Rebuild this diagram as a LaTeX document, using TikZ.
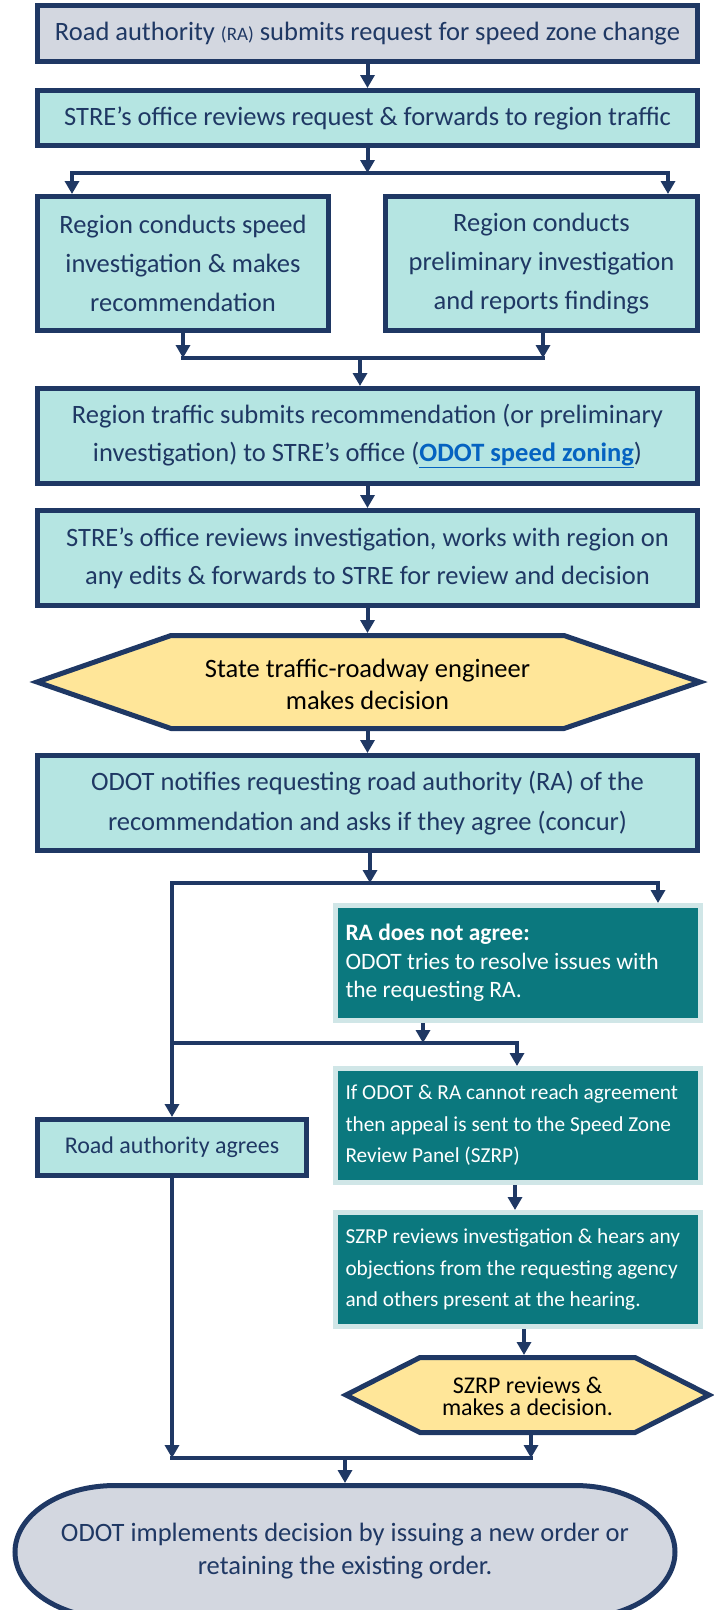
\documentclass[tikz,border=0pt]{standalone}
\usepackage{fontspec}
\setmainfont{Carlito}
\usetikzlibrary{arrows.meta,calc}
\definecolor{navy}{HTML}{1F3864}
\definecolor{lteal}{HTML}{B5E5E2}
\definecolor{lgrey}{HTML}{D3D7E0}
\definecolor{dteal}{HTML}{0B787E}
\definecolor{dborder}{HTML}{D0E6E7}
\definecolor{yell}{HTML}{FFE699}
\definecolor{linkc}{HTML}{0563C1}
\newcommand{\bigf}[1]{\fontsize{26.5}{#1}\selectfont}
\begin{document}
\begin{tikzpicture}[x=1pt,y=1pt,
  ln/.style={draw=navy, line width=4pt, line cap=rect},
  arr/.style={draw=navy, line width=4pt, -{Triangle[width=14pt,length=13pt]}},
  lbox/.style={draw=navy, line width=5pt, fill=lteal, text=navy, inner sep=0pt, align=center},
  gbox/.style={lbox, fill=lgrey},
  dbox/.style={draw=dborder, line width=5pt, fill=dteal, text=white, inner sep=0pt, align=flush left, text width=345pt, minimum width=365pt},
  hexs/.style={draw=navy, line width=5pt, fill=yell, line join=miter},
  htext/.style={text=black, align=center, inner sep=0pt}
]
\useasboundingbox (0,0) rectangle (714,-1610);
\clip (0,0) rectangle (714,-1610);

% boxes
\node[gbox, minimum width=660pt, minimum height=56pt, font=\bigf{32}] (b1) at (367.5,-33.5)
  {Road authority {\fontsize{19}{20}\selectfont(RA)} submits request for speed zone change};
\node[lbox, minimum width=660pt, minimum height=55pt, font=\bigf{32}] (b2) at (367.5,-118)
  {STRE’s office reviews request \& forwards to region traffic};
\node[lbox, minimum width=291pt, minimum height=134pt, font=\bigf{39}] (b3l) at (183,-263.5)
  {Region conducts speed\\investigation \& makes\\recommendation};
\node[lbox, minimum width=312pt, minimum height=134pt, font=\bigf{39}] (b3r) at (541.5,-263.5)
  {Region conducts\\preliminary investigation\\and reports findings};
\node[lbox, minimum width=660pt, minimum height=95pt, font=\bigf{38}] (b4) at (367.5,-436)
  {Region traffic submits recommendation (or preliminary\\investigation) to STRE’s office ({\color{linkc}\bfseries\underline{ODOT speed zoning}})};
\node[lbox, minimum width=660pt, minimum height=95pt, font=\bigf{38}] (b5) at (367.5,-558)
  {STRE’s office reviews investigation, works with region on\\any edits \& forwards to STRE for review and decision};

% hexagon 1
\draw[hexs] (37,-682) -- (171,-635.5) -- (564,-635.5) -- (700,-682) -- (564,-728.5) -- (171,-728.5) -- cycle;
\node[htext, font=\bigf{32}] (h1) at (367.5,-684) {State traffic-roadway engineer\\makes decision};
\coordinate (h1n) at (367.5,-633);
\coordinate (h1s) at (367.5,-731);

\node[lbox, minimum width=660pt, minimum height=95pt, font=\bigf{40}] (b7) at (367.5,-803)
  {ODOT notifies requesting road authority (RA) of the\\recommendation and asks if they agree (concur)};

% dark teal boxes
\node[dbox, minimum height=115pt, font=\fontsize{23.5}{28.5}\selectfont] (ra) at (518,-963)
  {\mbox{\textbf{RA does not agree:}}\\\mbox{ODOT tries to resolve issues with}\\\mbox{the requesting RA.}};
\node[dbox, minimum height=114pt, font=\fontsize{21.3}{31.5}\selectfont] (ap) at (518,-1125.5)
  {\mbox{If ODOT \& RA cannot reach agreement}\\\mbox{then appeal is sent to the Speed Zone}\\\mbox{Review Panel (SZRP)}};
\node[dbox, minimum height=114pt, font=\fontsize{21.3}{31.5}\selectfont] (sz) at (518,-1269.5)
  {\mbox{SZRP reviews investigation \& hears any}\\\mbox{objections from the requesting agency}\\\mbox{and others present at the hearing.}};

\node[lbox, minimum width=269pt, minimum height=56pt, font=\fontsize{24}{28}\selectfont] (ag) at (172,-1147.5)
  {Road authority agrees};

% hexagon 2
\draw[hexs] (346,-1395) -- (420,-1357.5) -- (635,-1357.5) -- (709,-1395) -- (635,-1432.5) -- (420,-1432.5) -- cycle;
\node[htext, font=\fontsize{24}{22}\selectfont] (h2) at (527.5,-1396) {SZRP reviews \&\\makes a decision.};
\coordinate (h2n) at (524,-1355);
\coordinate (h2s) at (531,-1435);

% terminator
\draw[draw=navy, line width=5pt, fill=lgrey] (115,-1485.5) -- (575,-1485.5)
  arc[start angle=90, end angle=-90, x radius=100, y radius=66.5] -- (115,-1618.5)
  arc[start angle=270, end angle=90, x radius=100, y radius=66.5] -- cycle;
\node[text=navy, align=center, inner sep=0pt, font=\bigf{33}] (fin) at (345,-1551)
  {ODOT implements decision by issuing a new order or\\retaining the existing order.};
\coordinate (finn) at (345,-1483);

% connectors
\draw[arr] (b1.south) -- (b2.north);
\coordinate (j1) at (367.5,-173);
\coordinate (j1l) at (72,-173);
\coordinate (j1r) at (668,-173);
\draw[arr] (b2.south) -- (j1);
\draw[arr] (j1) -- (j1l) -- (j1l |- b3l.north);
\draw[arr] (j1) -- (j1r) -- (j1r |- b3r.north);

\coordinate (m1) at (360,-358);
\coordinate (m1l) at (183,-358);
\coordinate (m1r) at (543,-358);
\draw[arr] (b3l.south) -- (m1l);
\draw[arr] (b3r.south -| m1r) -- (m1r);
\draw[ln] (m1l) -- (m1r);
\draw[arr] (m1) -- (m1 |- b4.north);

\draw[arr] (b4.south) -- (b5.north);
\draw[arr] (b5.south) -- (h1n);
\draw[arr] (h1s) -- (b7.north);

\coordinate (j7) at (370,-883);
\coordinate (j7l) at (172,-883);
\coordinate (j7r) at (658,-883);
\draw[arr] (b7.south -| j7) -- (j7);
\draw[arr] (j7) -- (j7r) -- (j7r |- ra.north);
\draw[arr] (j7) -- (j7l) -- (ag.north);

\coordinate (j8) at (423,-1043);
\coordinate (j8l) at (172,-1043);
\coordinate (j8r) at (517,-1043);
\draw[arr] (j8 |- ra.south) -- (j8);
\draw[ln] (j8l) -- (j8r);
\draw[arr] (j8r) -- (j8r |- ap.north);

\draw[arr] ($(ap.south)+(-3,0)$) -- ($(sz.north)+(-3,0)$);
\draw[arr] (h2n |- sz.south) -- (h2n);

\coordinate (j9) at (345,-1458);
\coordinate (j9l) at (172,-1458);
\coordinate (j9r) at (531,-1458);
\draw[arr] (ag.south) -- (j9l);
\draw[arr] (h2s) -- (j9r);
\draw[ln] (j9l) -- (j9r);
\draw[arr] (j9) -- (finn);
\end{tikzpicture}
\end{document}
